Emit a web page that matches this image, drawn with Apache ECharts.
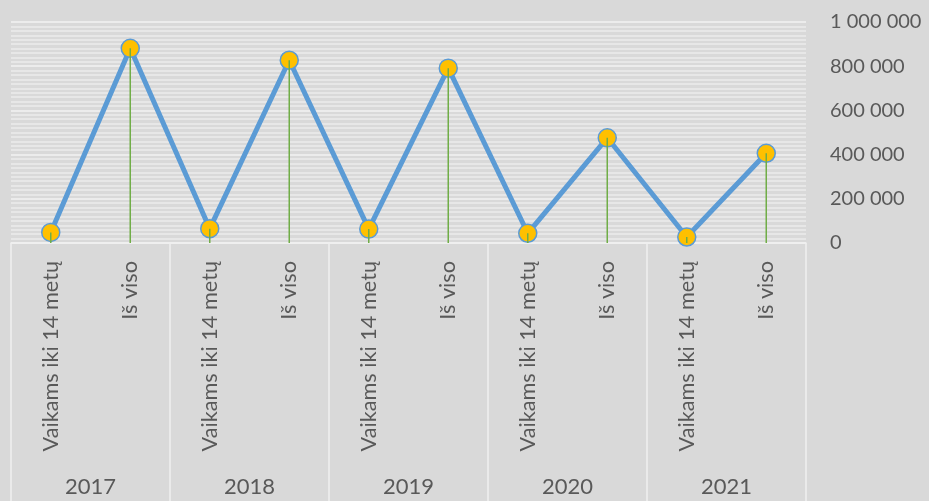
<!DOCTYPE html>
<html>
<head>
<meta charset="utf-8">
<script src="https://cdn.jsdelivr.net/npm/echarts@6/dist/echarts.min.js"></script>
<style>
  html, body { margin: 0; padding: 0; background: #d9d9d9; }
  #main { width: 929px; height: 501px; }
</style>
</head>
<body>
<div id="main"></div>
<script>
const years = ['2017', '2018', '2019', '2020', '2021'];
const subCats = ['Vaikams iki 14 metų', 'Iš viso'];
const values = [48000, 881000, 65000, 827000, 63000, 791000, 44000, 476000, 27000, 406000];
const yTicks = { min: 0, max: 1000000, step: 200000 };

const categories = [];
years.forEach(() => subCats.forEach(c => categories.push(c)));

const fmt = v => String(v).replace(/\B(?=(\d{3})+(?!\d))/g, ' ');
const font = 'Lato, "Open Sans", sans-serif';
const gridBox = { left: 11, right: 123, top: 22, bottom: 258 };

const chart = echarts.init(document.getElementById('main'));
chart.setOption({
  backgroundColor: '#d9d9d9',
  animation: false,
  grid: [
    Object.assign({}, gridBox),
    Object.assign({}, gridBox)
  ],
  xAxis: [
    {
      type: 'category',
      gridIndex: 0,
      data: categories,
      position: 'bottom',
      axisLine: { show: true, lineStyle: { color: '#efefef', width: 1.5 } },
      axisTick: { show: false },
      axisLabel: {
        rotate: 90,
        margin: 18,
        fontSize: 21.7,
        fontFamily: font,
        color: '#595959',
        interval: 0
      }
    },
    {
      type: 'category',
      gridIndex: 1,
      data: years,
      position: 'bottom',
      axisLine: { show: false },
      axisTick: { show: true, length: 260, lineStyle: { color: '#efefef', width: 1.5 } },
      axisLabel: {
        margin: 233,
        fontSize: 22,
        fontFamily: font,
        color: '#595959'
      }
    }
  ],
  yAxis: [
    {
      type: 'value',
      gridIndex: 0,
      position: 'right',
      min: yTicks.min,
      max: yTicks.max,
      interval: yTicks.step,
      axisLine: { show: false },
      axisTick: { show: false },
      axisLabel: {
        margin: 24,
        fontSize: 20,
        fontFamily: font,
        color: '#595959',
        formatter: fmt
      },
      splitLine: { show: true, lineStyle: { color: '#f2f2f2', width: 1.5 } },
      minorTick: { show: false, splitNumber: 10 },
      minorSplitLine: { show: true, lineStyle: { color: '#ececec', width: 1.5 } }
    },
    {
      type: 'value',
      gridIndex: 1,
      show: false,
      min: yTicks.min,
      max: yTicks.max
    }
  ],
  series: [
    {
      type: 'line',
      xAxisIndex: 0,
      yAxisIndex: 0,
      data: values,
      z: 2,
      lineStyle: { color: '#5b9bd5', width: 5 },
      symbol: 'circle',
      symbolSize: 18,
      itemStyle: { color: '#ffc000', borderColor: '#5b9bd5', borderWidth: 1.5 }
    },
    {
      type: 'bar',
      xAxisIndex: 0,
      yAxisIndex: 0,
      data: values,
      z: 3,
      barWidth: 1.5,
      itemStyle: { color: '#70ad47' },
      silent: true
    }
  ]
});
</script>
</body>
</html>
